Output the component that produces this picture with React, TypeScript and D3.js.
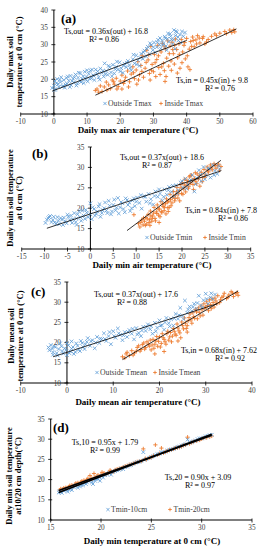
import React from "react";
import * as d3 from "d3";

// ---- data ----
const outsideTmax: [number, number][] = [
  [-0.5, 17.5], [0, 18.2], [0.3, 19.5], [0.5, 17.2], [1, 20.1], [1.2, 18.6], [1.5, 17.8], [2, 19.2], [2.2, 20.6], [2.8, 18.1],
  [3, 19.8], [3.3, 17.6], [3.8, 20.4], [4, 18.7], [4.5, 19.6], [5, 21], [5.2, 18.3], [5.8, 20.2], [6, 19.1], [6.5, 21.4],
  [7, 18.8], [7.3, 20.5], [7.8, 19.5], [8, 21.8], [8.5, 20.1], [9, 18.9], [9.3, 22.2], [9.8, 20.7], [10.2, 19.4], [10.5, 21.6],
  [11, 22.5], [11.3, 20.3], [11.8, 21.2], [12.2, 19.8], [12.6, 22.8], [13, 21.5], [13.5, 20.6], [14, 23.1], [14.4, 21.9], [15, 20.8],
  [15.3, 24.6], [15.8, 22.4], [16.2, 21.3], [16.8, 23.5], [17.2, 22], [17.8, 24.2], [18.2, 21.7], [18.8, 23.6], [19.3, 22.8], [19.8, 24.9],
  [20.3, 23.2], [20.8, 21.9], [21.3, 24.5], [21.8, 23.5], [22.3, 25.3], [22.8, 24.1], [23.3, 22.6], [23.8, 25.8], [24.3, 24.6], [24.8, 26.9],
  [25.3, 25.5], [25.8, 23.9], [26.3, 27.4], [26.8, 25.9], [27.3, 28.3], [27.8, 26.6], [28.3, 29.4], [28.8, 27.3], [29.3, 29.9], [29.8, 28.4],
  [30.2, 30.6], [30.6, 27.8], [31, 29.3], [31.4, 31.4], [31.8, 30.1], [32.2, 28.9], [32.6, 31.2], [33, 30.4], [33.4, 32.3], [33.8, 29.6],
  [34.2, 31.7], [34.6, 30.8], [35, 33.1], [35.4, 31.5], [35.8, 30.2], [36.2, 34.2], [36.6, 32.6], [37, 33.6], [37.5, 31.2], [38, 32.9],
  [38.6, 33.8], [39.5, 33.5], [36.5, 28.8], [34, 28.4],
  [0.2, 16.9], [0.8, 18.9], [1.8, 19.9], [2.5, 17.9], [3.5, 18.5], [4.2, 20.8], [4.8, 17.8], [5.5, 19.5], [6.2, 20.6], [6.8, 18.2],
  [7.5, 21.9], [8.2, 19.2], [8.8, 20.9], [9.6, 19.9], [10, 22.6], [10.8, 20.2], [11.5, 22.8], [12, 21], [13.2, 22.3], [13.8, 19.9],
  [14.8, 22.5], [15.5, 21.5], [16.5, 23.9], [17.5, 20.9], [18.5, 22.9], [19, 25.1], [20, 22.3], [21, 23.9], [22, 24.8], [23, 23.3],
  [24, 27.1], [25, 24.3], [26, 26.2], [27, 27.8], [28, 28.8], [29, 30.4], [30, 29.3], [31.2, 30.7], [32, 31.9], [32.8, 29.9],
  [33.6, 31.8], [34.4, 33.2], [35.2, 32.4], [36, 31.4], [36.8, 33.9], [37.4, 32.2], [38.2, 30.6], [39, 32.4],
];
const insideTmax: [number, number][] = [
  [12.5, 16.8], [13, 17.2], [14, 18.1], [14.5, 16.5], [15.2, 17.8], [15.8, 19.2], [16.5, 18.4], [17, 17.3], [17.6, 19.8], [18.2, 18.6],
  [18.8, 20.3], [19.4, 17.9], [20, 19.5], [20.5, 21.2], [21, 18.8], [21.6, 20.6], [22.2, 22.4], [22.8, 19.3], [23.3, 21.5], [23.8, 23.6],
  [24.3, 20.2], [24.8, 22.7], [25.3, 25.1], [25.8, 21.3], [26.2, 24], [26.6, 26.8], [27, 20.6], [27.5, 23.2], [28, 28.4], [28.4, 25.6],
  [28.8, 21.7], [29.2, 29.5], [29.6, 24.3], [30, 22.2], [30.3, 27.2], [30.7, 20.8], [31, 25.7], [31.3, 29.8], [31.6, 23.4], [32, 21.4],
  [32.3, 27.9], [32.7, 30.4], [33, 24.6], [33.3, 22.5], [33.6, 28.8], [34, 26.1], [34.3, 31.1], [34.6, 23.8], [35, 29.6], [35.3, 25.3],
  [35.6, 30.7], [36, 27.4], [36.3, 24.4], [36.6, 31.6], [37, 28.6], [37.3, 26.2], [37.7, 30.2], [38, 23.2], [38.4, 31.5], [38.8, 27.9],
  [39.2, 29.8], [39.6, 25.9], [40, 31.8], [40.4, 23.6], [40.8, 28.7], [41.2, 30.9], [41.8, 32.2], [42.3, 29.4], [42.8, 31.4], [43.3, 32.6],
  [44, 30.5], [44.8, 31.8], [45.5, 30.2], [46.5, 31.5], [47.5, 32.4], [48.5, 33.1], [50, 33.3], [51.5, 33.8], [53, 34.2], [53.6, 33.5],
  [54.2, 34.3], [54.5, 33.7], [20.5, 17.2], [25, 18.6], [33.5, 19.4], [29, 19.8],
  [13.5, 16.3], [16, 16.9], [18, 19.3], [19, 17.2], [21.3, 19.6], [22.5, 17.8], [24, 21.9], [25.5, 19.8], [26.5, 22.3], [27.8, 24.9],
  [28.6, 27.1], [29.4, 22.6], [30.5, 24.8], [31.5, 26.8], [32.5, 23.6], [33.2, 29.6], [33.8, 20.8], [34.8, 27.4], [35.4, 22.6], [35.8, 28.6],
  [36.4, 29.8], [37.2, 21.8], [37.8, 27.2], [38.6, 24.8], [39.4, 30.6], [40.2, 26.8], [41, 22.8], [41.5, 29.5], [42, 31.2], [43, 30.2],
  [43.8, 31.9], [45, 32.3], [46, 30.8], [49, 32.6], [52, 33.2],
];
const outsideTmin: [number, number][] = [
  [-9.5, 17.2], [-9, 17.8], [-8.5, 16.6], [-8, 17.9], [-7.5, 16.2], [-7, 16.9], [-6.5, 17.6], [-6, 15.9], [-5.5, 16.8], [-5, 18.4],
  [-4.5, 17.1], [-4, 16.4], [-3.5, 18.8], [-3, 17.5], [-2.5, 19.2], [-2, 16.9], [-1.5, 18.2], [-1, 19.6], [-0.5, 17.8], [0, 21.2],
  [0, 18.5], [0.3, 17.3], [0.8, 19.8], [1.3, 18.6], [1.8, 20.4], [2.2, 17.9], [2.7, 19.5], [3.2, 21.4], [3.7, 18.8], [4.2, 20.6],
  [4.7, 19.2], [5.2, 22.1], [5.7, 20.1], [6.2, 18.7], [6.7, 21.5], [7.2, 19.8], [7.7, 22.4], [8.2, 20.8], [8.7, 19.3], [9.2, 21.9],
  [9.7, 20.5], [10.2, 22.6], [10.7, 21.3], [11.2, 19.9], [11.7, 22.9], [12.2, 21.6], [12.7, 23.5], [13.2, 22.2], [13.7, 20.9], [14.2, 24.1],
  [14.7, 22.8], [15.2, 23.6], [15.7, 21.9], [16.2, 24.6], [16.7, 23.3], [17.2, 25.2], [17.7, 24], [18.2, 22.9], [18.7, 25.6], [19.2, 24.4],
  [19.7, 26.3], [20.2, 25.1], [20.7, 27.2], [21.2, 25.8], [21.7, 26.7], [22.2, 28.1], [22.7, 24.1], [23.2, 27.4], [23.7, 29.3], [24.2, 26.6],
  [24.7, 30.1], [25.2, 28.2], [25.7, 29.8], [26.2, 27.5], [26.7, 30.6], [27.2, 29.2], [27.7, 28.4], [28.2, 29.6], [-8.8, 18.1], [-3, 15.9],
  [-9.8, 16.4], [-9.2, 17.5], [-8.2, 17.1], [-7.8, 16.5], [-7.2, 17.8], [-6.8, 16.1], [-6.2, 17.2], [-5.8, 17.7], [-5.2, 16.3], [-4.8, 17.9],
  [-4.2, 18.2], [-3.8, 17.3], [-3.2, 16.6], [-2.8, 18.5], [-2.2, 17.8], [-1.8, 19.4], [-1.2, 17.4], [-0.8, 18.9], [0.5, 20.2], [1, 18.2],
  [1.5, 19.2], [2, 21], [2.5, 18.8], [3, 20], [3.5, 19.4], [4, 21.8], [4.5, 18.5], [5, 20.8], [5.5, 19.5], [6, 22.5],
  [6.5, 20.2], [7, 21.2], [7.5, 19], [8, 22], [8.5, 21.4], [9, 20], [9.5, 22.4], [10, 21.6], [11, 23.2], [12, 22.8],
  [13, 21.2], [14, 23], [15, 24.6], [16, 22.8], [17, 24.4], [18, 25.5], [19, 23.6], [20, 26.6], [21, 24.8], [22, 26.9],
  [23, 25.9], [24, 28.2], [25, 27.1], [26, 29.6], [27, 28.1], [28, 30.4],
];
const insideTmin: [number, number][] = [
  [9.5, 18.4], [10.5, 16.2], [10.8, 15.4], [11.2, 17.1], [11.5, 15.9], [11.8, 16.8], [12.1, 17.7], [12.3, 16.1], [12.6, 18.5], [12.9, 17.2],
  [13.1, 19.3], [13.4, 16.8], [13.6, 18.1], [13.9, 20.2], [14.1, 17.5], [14.4, 19.1], [14.6, 20.8], [14.9, 18.3], [15.1, 19.8], [15.4, 21.6],
  [15.6, 18.9], [15.9, 20.4], [16.1, 19.4], [16.4, 21.1], [16.6, 22.3], [16.9, 20.1], [17.1, 21.7], [17.4, 23.4], [17.6, 20.6], [17.9, 22.6],
  [18.1, 24.1], [18.4, 21.8], [18.6, 23.2], [18.9, 25.1], [19.1, 22.5], [19.4, 24.3], [19.6, 25.8], [19.9, 23.6], [20.1, 26.3], [20.4, 24.7],
  [20.6, 27.1], [20.9, 25.5], [21.1, 26.8], [21.4, 24.9], [21.6, 27.7], [21.9, 26.2], [22.1, 28.1], [22.4, 25.8], [22.7, 27.3], [23, 26.6],
  [23.3, 28.4], [23.6, 27.1], [23.9, 25.4], [24.2, 28.8], [24.5, 27.5], [24.8, 29.5], [25.1, 28.2], [25.5, 30.1], [25.8, 28.9], [26.2, 30.6],
  [26.6, 29.4], [27, 30.9], [27.4, 29.8], [27.8, 30.4], [28.2, 29.3], [28.5, 30.2], [15, 16.5], [13, 15.8], [17, 19.2],
  [11, 16.5], [11.6, 17.6], [12, 15.8], [12.4, 17.4], [12.8, 16.5], [13.2, 18.1], [13.5, 17.5], [13.8, 18.8], [14.2, 16.9], [14.5, 18.7],
  [14.8, 19.8], [15.2, 17.9], [15.5, 19.2], [15.8, 21], [16.2, 20.2], [16.5, 18.6], [16.8, 21.5], [17.2, 20.2], [17.5, 22.1], [17.8, 21.3],
  [18.2, 23], [18.5, 22.4], [18.8, 24], [19.2, 23.5], [19.5, 21.8], [19.8, 25], [20.2, 23.4], [20.5, 25.7], [20.8, 24], [21.2, 26.2],
  [21.5, 25.4], [21.8, 28], [22.2, 26.9], [22.5, 24.6], [22.9, 28.7], [23.2, 26], [23.8, 28], [24.4, 26.5], [25, 27.6], [25.6, 29.2],
  [26.4, 29.9], [27.2, 30.5], [28, 30.8],
];
const outsideTmean: [number, number][] = [
  [-4, 18.8], [-3.5, 19.4], [-3, 17.6], [-2.5, 18.9], [-2, 16.8], [-1.5, 19.8], [-1, 17.9], [-0.5, 18.6], [0, 19.9], [0, 16.9],
  [0.5, 17.4], [1, 18.5], [1.5, 17.2], [2, 19.8], [2.5, 18.2], [3, 20.4], [3.5, 18.9], [4, 19.6], [4.5, 21.1], [5, 19.2],
  [5.5, 20.6], [6, 18.6], [6.5, 21.4], [7, 19.9], [7.5, 20.8], [8, 22.3], [8.5, 20.4], [9, 21.6], [9.5, 19.6], [10, 22.8],
  [10.5, 21.2], [11, 23.5], [11.5, 21.9], [12, 20.6], [12.5, 22.6], [13, 21.4], [13.5, 23.1], [14, 22.2], [14.5, 20.8], [15, 23.6],
  [15.5, 22.4], [16, 21.6], [16.5, 23.9], [17, 22.9], [17.5, 24.5], [18, 23.3], [18.5, 22.2], [19, 24.9], [19.5, 23.7], [20, 25.5],
  [20.5, 24.3], [21, 23.2], [21.5, 26.1], [22, 24.8], [22.5, 25.8], [23, 24.2], [23.5, 27.1], [24, 25.9], [24.5, 28.6], [25, 26.6],
  [25.5, 30.4], [26, 27.4], [26.5, 28.9], [27, 27.8], [27.5, 29.6], [28, 28.4], [28.5, 31.6], [29, 29.2], [29.5, 30.5], [30, 32.1],
  [30.5, 29.6], [31, 31.2], [31.5, 30.8], [32, 31.9], [-3, 17], [1, 20.3],
  [-3.8, 18.1], [-3.2, 18.5], [-2.8, 19.1], [-2.2, 17.4], [-1.8, 18.4], [-1.2, 19.1], [-0.8, 17.3], [-0.2, 18.2], [0.3, 19.3], [0.8, 17.8],
  [1.3, 18.9], [1.8, 17.7], [2.3, 19.2], [2.8, 17.9], [3.3, 19.9], [3.8, 18.4], [4.3, 20.2], [5.2, 20.3], [6.2, 20], [7.2, 21],
  [8.2, 20.9], [9.2, 22.6], [10.2, 21.6], [11.2, 22.3], [12.2, 21.8], [13.2, 22.6], [14.2, 23.4], [15.2, 22], [16.2, 23], [17.2, 23.8],
  [18.2, 24.1], [19.2, 22.8], [20.2, 24.2], [21.2, 25], [22.2, 24], [23.2, 26], [24.2, 26.8], [25.2, 25.8], [26.2, 28.2], [27.2, 28.8],
  [28.2, 29.8], [29.2, 28.6], [30.2, 30.8], [31.2, 32.2],
];
const insideTmean: [number, number][] = [
  [12, 16.5], [12.8, 17.2], [13.5, 16.8], [14, 18], [14.6, 17.4], [15.2, 18.8], [15.8, 17.9], [16.3, 19.5], [16.8, 18.4], [17.3, 20.2],
  [17.8, 19.1], [18.2, 18.2], [18.6, 20.8], [19, 19.6], [19.4, 21.5], [19.8, 20.3], [20.2, 18.9], [20.6, 22.2], [21, 20.8], [21.4, 19.6],
  [21.8, 22.8], [22.2, 21.4], [22.6, 20.2], [23, 23.5], [23.4, 22.1], [23.8, 24.6], [24.2, 22.9], [24.6, 21.2], [25, 24.2], [25.4, 26.1],
  [25.8, 23.5], [26.2, 25.4], [26.6, 27.1], [27, 24.8], [27.4, 26.4], [27.8, 28.2], [28.2, 25.9], [28.6, 27.5], [29, 29.1], [29.4, 26.8],
  [29.8, 28.5], [30.2, 30.1], [30.6, 27.9], [31, 29.4], [31.4, 30.8], [31.8, 28.8], [32.2, 30.3], [32.6, 31.6], [33, 29.9], [33.5, 31.2],
  [34, 32.2], [34.5, 30.9], [35, 31.8], [35.5, 32.6], [36, 31.4], [36.5, 32.1], [37, 31.7], [21, 17.8], [24, 20.4], [26, 22.6], [19, 17.2],
  [12.5, 16.2], [13, 17.6], [14.3, 16.9], [15, 17.9], [15.5, 19.2], [16, 18.3], [16.6, 19.9], [17, 18.8], [17.6, 19.6], [18, 20.6],
  [18.4, 19.4], [18.8, 18.6], [19.2, 20.4], [19.6, 19.1], [20, 21.4], [20.4, 19.8], [20.8, 21.2], [21.2, 20.2], [21.6, 22.2], [22, 20.6],
  [22.4, 22.5], [22.8, 21.6], [23.2, 22.8], [23.6, 21.8], [24, 23.6], [24.4, 22.4], [24.8, 25.1], [25.2, 23.4], [25.6, 24.8], [26, 24.2],
  [26.4, 26.2], [26.8, 25.6], [27.2, 27.4], [27.6, 26], [28, 27.6], [28.4, 28.6], [28.8, 26.6], [29.2, 28.1], [29.6, 29.6], [30, 28.8],
  [30.4, 29.2], [30.8, 30.6], [31.2, 28.4], [31.6, 29.9], [32, 31], [32.4, 29.6], [33.2, 30.6], [33.8, 31.5], [34.8, 31.2], [35.8, 32.3],
  [36.8, 32.4],
];
const tmin10cm: [number, number][] = [
  [15.8, 16.8], [16, 17], [16.3, 17.2], [16.6, 17.5], [17, 17.9], [17.3, 18.1], [17.6, 18.6], [18, 18.7], [18.3, 19.2], [18.6, 19.3],
  [19, 19.9], [19.2, 18.9], [19.5, 20.2], [19.8, 20.6], [20.1, 20.9], [20.4, 21.1], [20.8, 21.6], [21.2, 21.9], [21.6, 22.3], [22, 22.7],
  [22.4, 23.1], [22.8, 23.5], [23.2, 23.9], [23.6, 24.3], [24, 24.6], [24.2, 26.8], [24.5, 25.1], [25, 25.6], [25.4, 26.1], [25.8, 26.4],
  [26.2, 26.7], [26.6, 27.2], [27, 27.5], [27.4, 27.9], [27.8, 28.2], [28.2, 28.6], [28.6, 29.9], [29, 29.3], [29.4, 29.7], [29.8, 30.2],
  [30.2, 30.4], [30.6, 30.8], [31, 31.1],
  [15.9, 17.1], [16.1, 16.7], [16.4, 17.4], [16.7, 17], [16.9, 17.6], [17.1, 17.4], [17.4, 18.4], [17.7, 18], [17.9, 18.3], [18.2, 18.6],
  [18.5, 18.9], [18.8, 19.6], [19.1, 19.3], [19.4, 19.7], [19.7, 20.1], [19.9, 19.7], [20.2, 20.5], [20.6, 21.3], [21, 21.2], [21.4, 22.1],
  [21.8, 22.4], [22.2, 22.6], [22.6, 23.2], [23, 23.6], [23.4, 24.2], [23.8, 24.4], [24.3, 24.9], [24.8, 25.4], [25.2, 25.8], [25.6, 26.3],
  [26, 26.8], [26.4, 26.9], [26.8, 27.4], [27.2, 27.6], [27.6, 28.1], [28, 28.4], [28.4, 28.8], [28.8, 29.2], [29.2, 29.5], [29.6, 30],
  [30, 30.2], [30.4, 30.7], [30.8, 31],
];
const tmin20cm: [number, number][] = [
  [15.9, 17.4], [16.2, 17.6], [16.5, 18], [16.8, 18.2], [17.1, 18.6], [17.4, 18.8], [17.7, 19.2], [18, 19.4], [18.3, 19.8], [18.6, 20],
  [19, 20.3], [19.3, 21.5], [19.6, 20.8], [20, 21.2], [20.3, 21.6], [20.7, 21.7], [21, 22], [21.4, 22.4], [21.8, 22.7], [22.2, 23.1],
  [22.6, 23.4], [23, 23.8], [23.4, 24.2], [23.8, 24.5], [24.2, 27.6], [24.5, 25], [25, 25.5], [25.4, 28.6], [25.6, 26.1], [26, 27.8],
  [26.4, 26.9], [26.8, 27.3], [27.2, 27.6], [27.6, 27.9], [28, 28.2], [28.4, 28.6], [28.6, 30.5], [29, 29.2], [29.5, 29.6], [30, 30.1],
  [30.5, 30.4], [31, 30.8],
  [16, 17.7], [16.3, 17.9], [16.6, 17.8], [16.9, 18.5], [17.2, 18.4], [17.5, 19.1], [17.8, 18.9], [18.1, 19.6], [18.4, 19.5], [18.7, 20.3],
  [18.9, 21], [19.1, 20.2], [19.4, 20.6], [19.7, 21.1], [20.1, 21.8], [20.5, 21.3], [20.9, 22.3], [21.2, 21.9], [21.6, 22.6], [22, 22.8],
  [22.4, 23.3], [22.8, 23.7], [23.2, 24], [23.6, 24.4], [24, 24.6], [24.4, 25.2], [24.8, 25.4], [25.2, 25.9], [25.8, 26.4], [26.2, 26.6],
  [26.6, 27.1], [27, 27.4], [27.4, 27.8], [27.8, 28], [28.2, 28.5], [28.8, 28.9], [29.2, 29.4], [29.8, 29.8], [30.2, 30.3], [30.8, 30.6],
];

// fitted lines: [slope, intercept, xStart, xEnd]
const fitOutMax = [0.36, 16.8, -0.5, 40];
const fitInMax = [0.45, 9.8, 12.5, 55];
const fitOutMin = [0.37, 18.6, -9.5, 28.5];
const fitInMin = [0.84, 7.8, 8, 28.5];
const fitOutMean = [0.37, 17.6, -3, 32.5];
const fitInMean = [0.68, 7.62, 12, 37];
const fit10 = [0.95, 1.79, 15.8, 31];
const fit20 = [0.9, 3.09, 15.8, 31];

const BLUE = "#5B9BD5";
const ORANGE = "#ED7D31";
const SERIF = "'Liberation Serif', 'Times New Roman', serif";

type Panel = {
  key: string;
  xDom: [number, number];
  xRange: [number, number];
  xStep: number;
  yDom: [number, number];
  yRange: [number, number];
  yAxisAt: number;
  blue: [number, number][];
  orange: [number, number][];
  fits: number[][];
  fitWidth: number;
  label: string;
  labelPos: [number, number];
  xTitle: string;
  xTitlePos: [number, number];
  yTitle: string[];
  yTitlePos: [number, number];
  eqs: { text: string; r2: string; x: number; y: number; rx: number }[];
  legend: { blue: string; orange: string; bx: number; ox: number; y: number };
};

const panels: Panel[] = [
  {
    key: "a", xDom: [-10, 60], xRange: [20.7, 253], xStep: 10, yDom: [10, 40], yRange: [114, 10], yAxisAt: 0,
    blue: outsideTmax, orange: insideTmax, fits: [fitOutMax, fitInMax], fitWidth: 0.8,
    label: "(a)", labelPos: [61, 23],
    xTitle: "Daily max air temperature (\u00B0C)", xTitlePos: [138, 133],
    yTitle: ["Daily max soil", "temperature at 0 cm (\u00B0C)"], yTitlePos: [13, 62],
    eqs: [
      { text: "Ts,out = 0.36x(out) + 16.8", r2: "R\u00B2 = 0.86", x: 106, y: 34, rx: 104 },
      { text: "Ts,in = 0.45x(in) + 9.8", r2: "R\u00B2 = 0.76", x: 212, y: 83, rx: 220 },
    ],
    legend: { blue: "Outside Tmax", orange: "Inside Tmax", bx: 105, ox: 161, y: 106 },
  },
  {
    key: "b", xDom: [-15, 35], xRange: [21.7, 250.7], xStep: 5, yDom: [10, 35], yRange: [249, 147], yAxisAt: 0,
    blue: outsideTmin, orange: insideTmin, fits: [fitOutMin, fitInMin], fitWidth: 0.8,
    label: "(b)", labelPos: [32, 158],
    xTitle: "Daily min air temperature (\u00B0C)", xTitlePos: [152, 268],
    yTitle: ["Daily min soil temperature", "at 0 cm (\u00B0C)"], yTitlePos: [13, 198],
    eqs: [
      { text: "Ts,out = 0.37x(out) + 18.6", r2: "R\u00B2 = 0.87", x: 162, y: 160, rx: 157 },
      { text: "Ts,in = 0.84x(in) + 7.8", r2: "R\u00B2 = 0.86", x: 221, y: 213, rx: 233 },
    ],
    legend: { blue: "Outside Tmin", orange: "Inside Tmin", bx: 147, ox: 205, y: 240 },
  },
  {
    key: "c", xDom: [-10, 40], xRange: [20.7, 252], xStep: 10, yDom: [10, 35], yRange: [383, 282], yAxisAt: 0,
    blue: outsideTmean, orange: insideTmean, fits: [fitOutMean, fitInMean], fitWidth: 0.8,
    label: "(c)", labelPos: [31, 296],
    xTitle: "Daily mean air temperature (\u00B0C)", xTitlePos: [138, 405],
    yTitle: ["Daily mean soil", "temperature at 0 cm (\u00B0C)"], yTitlePos: [14, 336],
    eqs: [
      { text: "Ts,out = 0.37x(out) + 17.6", r2: "R\u00B2 = 0.88", x: 136, y: 297, rx: 132 },
      { text: "Ts,in = 0.68x(in) + 7.62", r2: "R\u00B2 = 0.92", x: 219, y: 353, rx: 230 },
    ],
    legend: { blue: "Outside Tmean", orange: "Inside Tmean", bx: 97, ox: 155, y: 375 },
  },
  {
    key: "d", xDom: [15, 35], xRange: [50.7, 252], xStep: 5, yDom: [10, 35], yRange: [520, 419], yAxisAt: 15,
    blue: tmin10cm, orange: tmin20cm, fits: [fit10, fit20], fitWidth: 1.6,
    label: "(d)", labelPos: [53, 432],
    xTitle: "Daily min temperature  at 0 cm (\u00B0C)", xTitlePos: [152, 544],
    yTitle: ["Daily min soil temperature", "at10/20 cm depth(\u00B0C)"], yTitlePos: [12, 476],
    eqs: [
      { text: "Ts,10 = 0.95x + 1.79", r2: "R\u00B2 = 0.99", x: 105, y: 445, rx: 105 },
      { text: "Ts,20 = 0.90x + 3.09", r2: "R\u00B2 = 0.97", x: 198, y: 480, rx: 200 },
    ],
    legend: { blue: "Tmin-10cm", orange: "Tmin-20cm", bx: 108, ox: 170, y: 512 },
  },
];

const Cross = ({ x, y, s = 1.8 }: { x: number; y: number; s?: number }) => (
  <path d={`M${x - s},${y - s}L${x + s},${y + s}M${x - s},${y + s}L${x + s},${y - s}`} stroke={BLUE} strokeWidth={0.8} fill="none" />
);
const Plus = ({ x, y, s = 2.1 }: { x: number; y: number; s?: number }) => (
  <path d={`M${x - s},${y}L${x + s},${y}M${x},${y - s}L${x},${y + s}`} stroke={ORANGE} strokeWidth={0.9} fill="none" />
);

const PanelChart = ({ p }: { p: Panel }) => {
  const x = d3.scaleLinear().domain(p.xDom).range(p.xRange);
  const y = d3.scaleLinear().domain(p.yDom).range(p.yRange);
  const xTicks = d3.range(p.xDom[0], p.xDom[1] + 0.001, p.xStep);
  const yTicks = d3.range(p.yDom[0], p.yDom[1] + 0.001, 5);
  const ax = x(p.yAxisAt);
  const y0 = p.yRange[0];
  const line = d3.line<number[]>().x((d) => x(d[0])).y((d) => y(d[1]));
  return (
    <g>
      {/* axes */}
      <line x1={p.xRange[0]} x2={p.xRange[1]} y1={y0} y2={y0} stroke="#000" strokeWidth={1} />
      <line x1={ax} x2={ax} y1={y0} y2={p.yRange[1]} stroke="#000" strokeWidth={1} />
      {xTicks.map((t) => (
        <g key={`x${t}`}>
          <line x1={x(t)} x2={x(t)} y1={y0 - 1.5} y2={y0 + 2.5} stroke="#000" strokeWidth={0.8} />
          <text x={x(t)} y={y0 + 10} textAnchor="middle" fontSize={7.3} fill="#404040" fontFamily={SERIF}>{t}</text>
        </g>
      ))}
      {yTicks.map((t) => (
        <g key={`y${t}`}>
          <line x1={ax - 2.5} x2={ax + 1.5} y1={y(t)} y2={y(t)} stroke="#000" strokeWidth={0.8} />
          <text x={ax - 6} y={y(t) + 2.5} textAnchor="end" fontSize={7.3} fill="#404040" fontFamily={SERIF}>{t}</text>
        </g>
      ))}
      {/* points */}
      {p.orange.map((d, i) => <Plus key={`o${i}`} x={x(d[0])} y={y(d[1])} />)}
      {p.blue.map((d, i) => <Cross key={`b${i}`} x={x(d[0])} y={y(d[1])} />)}
      {/* fitted lines */}
      {p.fits.map((f, i) => (
        <path key={`f${i}`} d={line([[f[2], f[0] * f[2] + f[1]], [f[3], f[0] * f[3] + f[1]]]) || ""}
          stroke="#000" strokeWidth={p.fitWidth} fill="none" />
      ))}
      {/* equations */}
      {p.eqs.map((e, i) => (
        <g key={`e${i}`} fontFamily={SERIF} fontSize={8} fill="#000">
          <text x={e.x} y={e.y} textAnchor="middle">{e.text}</text>
          <text x={e.rx} y={e.y + 8} textAnchor="middle">{e.r2}</text>
        </g>
      ))}
      {/* legend */}
      <Cross x={p.legend.bx} y={p.legend.y - 2.5} s={1.6} />
      <text x={p.legend.bx + 3} y={p.legend.y} fontSize={7.7} fill="#404040" fontFamily={SERIF}>{p.legend.blue}</text>
      <Plus x={p.legend.ox} y={p.legend.y - 2.5} s={1.8} />
      <text x={p.legend.ox + 3.5} y={p.legend.y} fontSize={7.7} fill="#404040" fontFamily={SERIF}>{p.legend.orange}</text>
      {/* labels and titles */}
      <text x={p.labelPos[0]} y={p.labelPos[1]} fontSize={13} fontWeight="bold" fontFamily={SERIF}>{p.label}</text>
      <text x={p.xTitlePos[0]} y={p.xTitlePos[1]} textAnchor="middle" fontSize={9} fontWeight="bold" fontFamily={SERIF}>{p.xTitle}</text>
      <text transform={`translate(${p.yTitlePos[0]},${p.yTitlePos[1]}) rotate(-90)`} textAnchor="middle" fontSize={8.5} fontWeight="bold" fontFamily={SERIF}>
        {p.yTitle.map((s, i) => (
          <tspan key={i} x={0} dy={i === 0 ? 0 : 8.5}>{s}</tspan>
        ))}
      </text>
    </g>
  );
};

export default function App() {
  return (
    <svg width={262} height={550} style={{ position: "absolute", left: 0, top: 0, background: "#fff" }}>
      {panels.map((p) => <PanelChart key={p.key} p={p} />)}
    </svg>
  );
}
